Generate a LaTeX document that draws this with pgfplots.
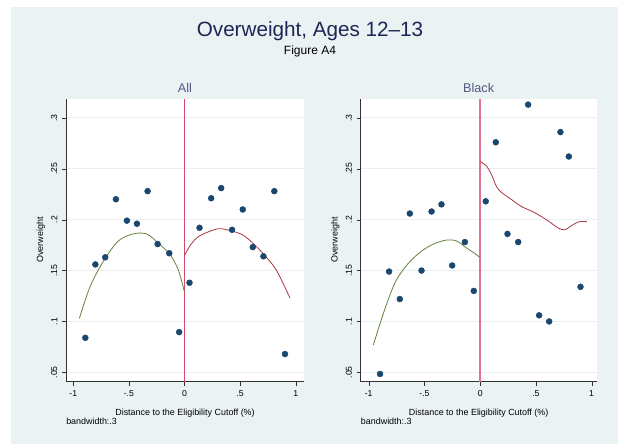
\documentclass[border=0pt]{standalone}
\usepackage{fontspec}
\setmainfont{Liberation Sans}
\usepackage{pgfplots}
\pgfplotsset{compat=1.18}
\definecolor{bgc}{RGB}{234,242,243}
\definecolor{stnavy}{RGB}{26,71,111}
\definecolor{stgreen}{RGB}{100,130,62}
\definecolor{stmaroon}{RGB}{170,55,68}
\definecolor{cutca}{RGB}{216,72,112}
\definecolor{cutcb}{RGB}{228,112,148}
\definecolor{titc}{RGB}{28,38,85}
\definecolor{subc}{RGB}{80,90,130}
\definecolor{gridc}{RGB}{232,240,241}
\pgfplotsset{
  panel/.style={
    scale only axis,
    height=212.25pt,
    ymin=0.041, ymax=0.319,
    axis x line*=bottom, axis y line*=left,
    axis line style={-, black!80},
    tick align=outside,
    major tick length=3pt,
    tick style={black!80},
    xtick={-1,-0.5,0,0.5,1},
    xticklabels={-1,-.5,0,.5,1},
    ytick={0.05,0.1,0.15,0.2,0.25,0.3},
    yticklabels={.05,.1,.15,.2,.25,.3},
    ymajorgrids,
    grid style={gridc, line width=0.6pt},
    tick label style={font=\fontsize{6.5}{7}\selectfont},
    yticklabel style={rotate=90, anchor=south},
    xlabel={Distance to the Eligibility Cutoff (\%)},
    ylabel={Overweight},
    label style={font=\fontsize{6.7}{8}\selectfont},
    xlabel style={at={(axis description cs:0.5,0)}, anchor=center, yshift=-23.6pt},
    title style={font=\fontsize{9.5}{11}\selectfont, text=subc, yshift=-5pt},
    clip=false,
    axis background/.style={fill=white},
  },
  dots/.style={only marks, mark=*, mark size=2.2pt, mark options={fill=stnavy, draw=stnavy}},
}
\begin{document}
\begin{tikzpicture}
\fill[white] (0,0) rectangle (463.5pt,333pt);
\fill[bgc] (8.25pt,0) rectangle (463.5pt,327.75pt);
\useasboundingbox (0,0) rectangle (463.5pt,333pt);
\node[text=titc, font=\fontsize{15.5}{17}\selectfont] at (232.5pt,310pt) {Overweight, Ages 12–13};
\node[text=black, font=\fontsize{9}{11}\selectfont] at (232.5pt,294.75pt) {Figure A4};

% Left panel: All
\begin{axis}[panel, at={(49.5pt,46.875pt)}, anchor=south west, width=178.5pt, title={All},
  xmin=-1.066, xmax=1.075,
  ylabel style={at={(axis description cs:-0.106,0.5)}, anchor=center}]
\addplot[draw=cutca, color=cutca, line width=1.4pt, no marks, forget plot] table {
x y
0 0.041
0 0.319
};
\addplot[dots] coordinates {
(-0.892,0.0839) (-0.802,0.156) (-0.713,0.163) (-0.617,0.220) (-0.518,0.199)
(-0.428,0.196) (-0.332,0.228) (-0.242,0.176) (-0.137,0.167) (-0.048,0.0895)
(0.045,0.138) (0.135,0.192) (0.240,0.221) (0.330,0.231) (0.428,0.190)
(0.524,0.210) (0.614,0.173) (0.710,0.164) (0.808,0.228) (0.904,0.068)
};
\addplot[color=stgreen, line width=0.6pt, smooth] coordinates {
(-0.946,0.103) (-0.850,0.134) (-0.731,0.159) (-0.596,0.179) (-0.461,0.186)
(-0.341,0.186) (-0.237,0.177) (-0.132,0.166) (-0.057,0.151) (0,0.129)
};
\addplot[color=stmaroon, line width=0.6pt, smooth] coordinates {
(0,0.165) (0.060,0.176) (0.135,0.184) (0.299,0.191) (0.419,0.189)
(0.524,0.185) (0.614,0.177) (0.704,0.167) (0.823,0.151) (0.949,0.123)
};
\end{axis}
\node[anchor=west, font=\fontsize{6.7}{8}\selectfont, inner sep=0pt] at (49.5pt,16.9pt) {bandwidth:.3};

% Right panel: Black
\begin{axis}[panel, at={(270.5pt,46.875pt)}, anchor=south west, width=177pt, title={Black},
  xmin=-1.072, xmax=1.045,
  ylabel style={at={(axis description cs:-0.107,0.5)}, anchor=center}]
\addplot[draw=cutcb, color=cutcb, line width=1.2pt, no marks, forget plot] table {
x y
0 0.041
0 0.319
};
\addplot[dots] coordinates {
(-0.898,0.0484) (-0.817,0.149) (-0.721,0.122) (-0.631,0.206) (-0.526,0.150)
(-0.436,0.208) (-0.347,0.215) (-0.251,0.155) (-0.137,0.178) (-0.057,0.130)
(0.050,0.218) (0.140,0.276) (0.245,0.186) (0.341,0.178) (0.430,0.313)
(0.529,0.106) (0.619,0.100) (0.720,0.286) (0.795,0.262) (0.900,0.134)
};
\addplot[color=stgreen, line width=0.6pt, smooth] coordinates {
(-0.958,0.077) (-0.868,0.108) (-0.764,0.138) (-0.653,0.156) (-0.539,0.168)
(-0.420,0.176) (-0.300,0.180) (-0.210,0.179) (-0.120,0.172) (-0.050,0.167) (-0.005,0.163)
};
\addplot[color=stmaroon, line width=0.6pt, smooth] coordinates {
(0,0.257) (0.054,0.253) (0.099,0.245) (0.144,0.233) (0.188,0.227) (0.278,0.220)
(0.368,0.213) (0.487,0.207) (0.607,0.199) (0.697,0.192) (0.757,0.190)
(0.832,0.195) (0.891,0.198) (0.957,0.198)
};
\end{axis}
\node[anchor=west, font=\fontsize{6.7}{8}\selectfont, inner sep=0pt] at (270.5pt,16.9pt) {bandwidth:.3};
\end{tikzpicture}
\end{document}
